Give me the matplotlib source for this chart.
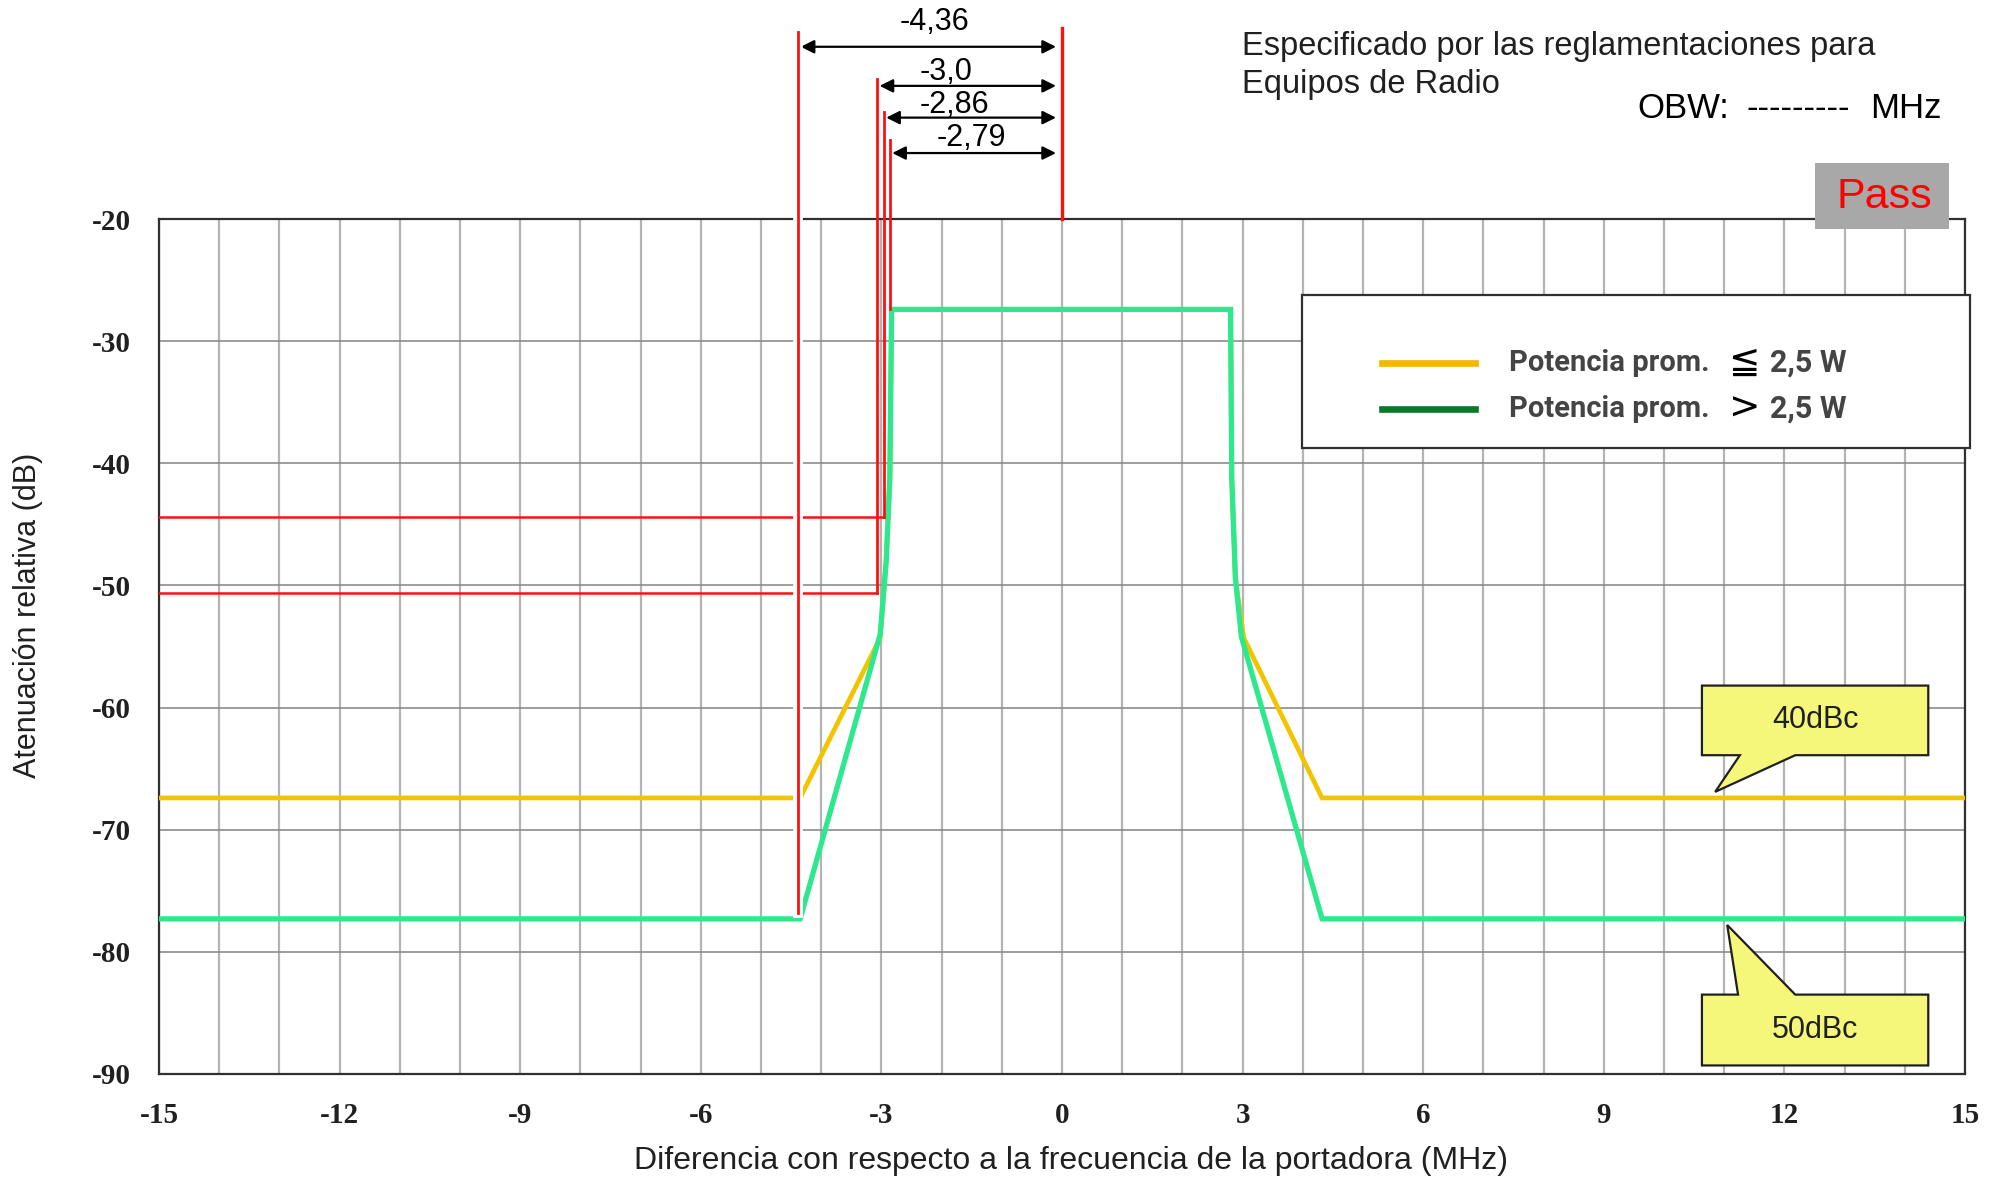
import matplotlib
matplotlib.use("Agg")
import matplotlib.pyplot as plt
import matplotlib.patheffects as pe
from matplotlib.patches import Polygon, Rectangle
import numpy as np

plt.rcParams["axes.unicode_minus"] = False

# mask curves (MHz offset, dB)
freq = [-15, -4.35, -3.02, -2.92, -2.86, -2.83, 2.80, 2.82, 2.88, 2.98, 4.32, 15]
mask_high = [-77.3, -77.3, -54.0, -48.0, -41.2, -27.4, -27.4, -41.2, -49.4, -54.2, -77.3, -77.3]
freq_low = [-15, -4.35, -3.02, -2.92, -2.86, -2.83, 2.80, 2.82, 2.88, 3.02, 4.32, 15]
mask_low = [-67.4, -67.4, -54.3, -48.0, -41.2, -27.4, -27.4, -41.2, -49.4, -54.3, -67.4, -67.4]

# red measurement markers: x position, lower end, label
mark_x = [-4.38, -3.07, -2.96, -2.86]
mark_bottom = [-76.8, -50.6, -44.4, -27.4]
mark_top = [-4.7, -8.5, -11.2, -13.5]
mark_label = ["-4,36", "-3,0", "-2,86", "-2,79"]
arrow_y = [-5.9, -9.1, -11.7, -14.6]
label_pos = [(-2.11, -3.9), (-1.92, -8.0), (-1.79, -10.7), (-1.51, -13.4)]
ref_levels = [-44.4, -50.6]
ref_ends = [-2.96, -3.07]

xticks = [-15, -12, -9, -6, -3, 0, 3, 6, 9, 12, 15]
yticks = [-20, -30, -40, -50, -60, -70, -80, -90]

W, H = 1997, 1181
def fx(px):
    return px / W
def fy(py):
    return 1 - py / H

fig = plt.figure(figsize=(W / 100, H / 100), dpi=100)
ax = fig.add_axes([fx(159), fy(1074), fx(1965 - 159), (1074 - 219) / H])
ax.set_xlim(-15, 15)
ax.set_ylim(-90, -20)

# grid
for x in range(-15, 16):
    ax.axvline(x, color="#b4b4b4", lw=1.6, zorder=0)
for y in yticks:
    ax.axhline(y, color="#8c8c8c", lw=1.2, zorder=0)
for s in ax.spines.values():
    s.set_linewidth(1.6)
    s.set_color("#303030")

ax.set_xticks(xticks)
ax.set_yticks(yticks)
ax.tick_params(length=0)
ax.tick_params(axis="x", pad=20)
ax.tick_params(axis="y", pad=20)
for lab in ax.get_xticklabels() + ax.get_yticklabels():
    lab.set_fontfamily("Liberation Serif")
    lab.set_fontweight("bold")
    lab.set_fontsize(21)
    lab.set_color("#202020")

# masks
ax.plot(freq_low, mask_low, color="#f2c400", lw=3.4, zorder=3, solid_joinstyle="miter")
ax.plot(freq, mask_high, color="#2ee88e", lw=3.8, zorder=4, solid_joinstyle="miter")

# red reference lines
for lvl, xe in zip(ref_levels, ref_ends):
    ax.plot([-15, xe], [lvl, lvl], color="#ff1010", lw=1.8, zorder=5)
white = [pe.withStroke(linewidth=7, foreground="white")]
for i, (x, yb, yt) in enumerate(zip(mark_x, mark_bottom, mark_top)):
    ax.plot([x, x], [yb, yt], color="#ff1010", lw=2.0, zorder=6, clip_on=False,
            path_effects=white if i == 0 else None)
ax.plot([0, 0], [-20, -4.4], color="#ff1010", lw=2.4, zorder=6, clip_on=False)

for x, ya, lab, (tx, ty) in zip(mark_x, arrow_y, mark_label, label_pos):
    ax.annotate("", xy=(x + 0.04, ya), xytext=(-0.1, ya), annotation_clip=False,
                arrowprops=dict(arrowstyle="<|-|>", color="black", lw=1.6,
                                mutation_scale=20, shrinkA=0, shrinkB=0))
    ax.text(tx, ty, lab, ha="center", va="center", fontsize=22,
            family="Liberation Sans", clip_on=False)

# callouts: box = (x0, x1, ybottom, ytop), base = pointer root on the box edge
def callout(text, tip, box, base):
    x0, x1, yb, yt = box
    if tip[1] > yt:
        pts = [(x0, yb), (x1, yb), (x1, yt), (base[1], yt), tip, (base[0], yt), (x0, yt)]
    else:
        pts = [(x0, yt), (x1, yt), (x1, yb), (base[1], yb), tip, (base[0], yb), (x0, yb)]
    ax.add_patch(Polygon(pts, closed=True, fc="#f4f77a", ec="#202020", lw=1.6, zorder=7))
    ax.text((x0 + x1) / 2, (yb + yt) / 2, text, ha="center", va="center",
            fontsize=22, family="Liberation Sans", color="#202020", zorder=8)

callout("40dBc", (10.85, -66.9), (10.63, 14.39, -63.9, -58.2), (11.26, 12.18))
callout("50dBc", (11.05, -77.8), (10.63, 14.39, -89.3, -83.5), (11.23, 12.18))

# axis labels
fig.text(fx(28), fy(615), "Atenuación relativa (dB)", rotation=90, ha="center", va="center",
         fontsize=22, family="Liberation Sans", color="#202020")
fig.text(fx(1071), fy(1161), "Diferencia con respecto a la frecuencia de la portadora (MHz)",
         ha="center", va="center", fontsize=23, family="Liberation Sans", color="#202020")

# header texts
fig.text(fx(1242), fy(47), "Especificado por las reglamentaciones para", ha="left", va="center",
         fontsize=23.5, family="Liberation Sans", color="#202020")
fig.text(fx(1242), fy(85), "Equipos de Radio", ha="left", va="center",
         fontsize=23.5, family="Liberation Sans", color="#202020")
for px, s in [(1637, "OBW:"), (1747, "---------"), (1870, "MHz")]:
    fig.text(fx(px), fy(108), s, ha="left", va="center", fontsize=25,
             family="Liberation Sans", color="black")

# Pass box
fig.patches.append(Rectangle((fx(1815), fy(229)), fx(1949 - 1815), (229 - 163) / H,
                             transform=fig.transFigure, fc="#a8a8a8", ec="none", zorder=10))
fig.text(fx(1884), fy(197), "Pass", ha="center", va="center", fontsize=31,
         family="Liberation Sans", color="#ff0000", zorder=11)

# legend box
fig.patches.append(Rectangle((fx(1302), fy(448)), fx(1970 - 1302), (448 - 295) / H,
                             transform=fig.transFigure, fc="white", ec="#303030", lw=1.6, zorder=10))
leg_colors = ["#f2b800", "#0a7a2a"]
leg_sym = ["≦", ">"]
for i, (c, sym) in enumerate(zip(leg_colors, leg_sym)):
    yy = fy(363 + 46 * i)
    fig.add_artist(plt.Line2D([fx(1382), fx(1475)], [yy, yy], transform=fig.transFigure,
                              color=c, lw=4.8, zorder=11))
    fig.text(fx(1509), yy, "Potencia prom.", ha="left", va="center", fontsize=21,
             family="Roboto", weight="bold", color="#444444", zorder=11)
    fig.text(fx(1745), yy, sym, ha="center", va="center", fontsize=27,
             family="DejaVu Sans", color="black", zorder=11)
    fig.text(fx(1770), yy, "2,5 W", ha="left", va="center", fontsize=22,
             family="Roboto", weight="bold", color="#444444", zorder=11)

fig.savefig("out.png", dpi=100, facecolor="white")
